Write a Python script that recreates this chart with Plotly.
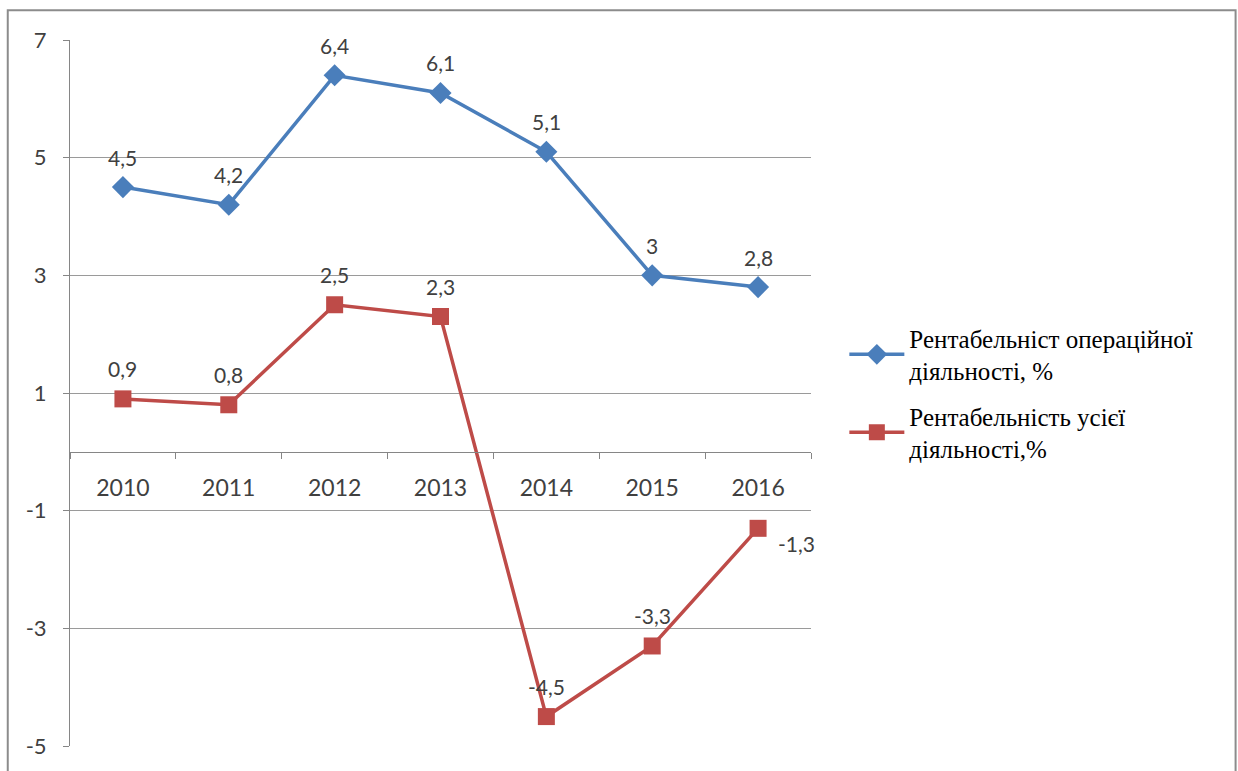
import plotly.graph_objects as go

years = ["2010", "2011", "2012", "2013", "2014", "2015", "2016"]
operating = [4.5, 4.2, 6.4, 6.1, 5.1, 3.0, 2.8]
total = [0.9, 0.8, 2.5, 2.3, -4.5, -3.3, -1.3]
operating_labels = ["4,5", "4,2", "6,4", "6,1", "5,1", "3", "2,8"]
total_labels = ["0,9", "0,8", "2,5", "2,3", "-4,5", "-3,3", "-1,3"]
ytick_vals = [7, 5, 3, 1, -1, -3, -5]
ytick_text = ["7", "5", "3", "1", "-1", "-3", "-5"]

name_op = "Рентабельніст операційної<br>діяльності, %"
name_tot = "Рентабельність усієї<br>діяльності,%"

blue = "#4A7EBB"
red = "#BE4B48"
txt = "#404040"
font_sans = "Lato, Liberation Sans, sans-serif"

fig = go.Figure()
fig.add_trace(go.Scatter(x=years, y=operating, mode="lines+markers", name=name_op,
                         legendgroup="op",
                         line=dict(color=blue, width=3.5),
                         marker=dict(symbol="diamond", size=17, color=blue)))
fig.add_trace(go.Scatter(x=years, y=total, mode="lines+markers", name=name_tot,
                         legendgroup="tot",
                         line=dict(color=red, width=3.5),
                         marker=dict(symbol="square", size=17, color=red)))

annotations = []
for i, (y, t) in enumerate(zip(operating, operating_labels)):
    annotations.append(dict(x=i, y=y, xref="x", yref="y", text=t, showarrow=False, yshift=30,
                            font=dict(family=font_sans, size=21, color=txt)))
for i, (y, t) in enumerate(zip(total, total_labels)):
    if i == len(years) - 1:
        annotations.append(dict(x=i, y=y, xref="x", yref="y", text=t, showarrow=False,
                                xshift=38, yshift=-15,
                                font=dict(family=font_sans, size=21, color=txt)))
    else:
        annotations.append(dict(x=i, y=y, xref="x", yref="y", text=t, showarrow=False, yshift=30,
                                font=dict(family=font_sans, size=21, color=txt)))

fig.update_layout(
    width=1238, height=771,
    margin=dict(l=70, r=427, t=40, b=20),
    paper_bgcolor="white", plot_bgcolor="white",
    showlegend=True,
    legend=dict(x=1.045, y=0.61, xanchor="left", yanchor="top",
                font=dict(family="Liberation Serif, serif", size=25, color="#000000"),
                tracegroupgap=10, itemwidth=55, bgcolor="rgba(0,0,0,0)"),
    annotations=annotations,
    xaxis=dict(type="category", anchor="free", position=5/12,
               showline=True, linecolor="#868686", linewidth=1,
               ticks="outside", tickson="boundaries", ticklen=6, tickcolor="#868686",
               ticklabelstandoff=16,
               showgrid=False, tickfont=dict(family=font_sans, size=23, color=txt),
               range=[-0.5, 6.5]),
    yaxis=dict(range=[-5, 7], tickvals=ytick_vals, ticktext=ytick_text,
               showgrid=True, gridcolor="#9a9a9a", gridwidth=1,
               showline=True, linecolor="#868686", linewidth=1,
               ticks="outside", ticklen=6, tickcolor="#868686",
               ticklabelstandoff=12,
               zeroline=False,
               tickfont=dict(family=font_sans, size=22, color=txt)),
    shapes=[dict(type="rect", xref="paper", yref="paper",
                 x0=-0.084, x1=1.573, y0=-0.04, y1=1.042,
                 line=dict(color="#8c8c8c", width=2), layer="below")],
)

fig.write_html("out.html")
